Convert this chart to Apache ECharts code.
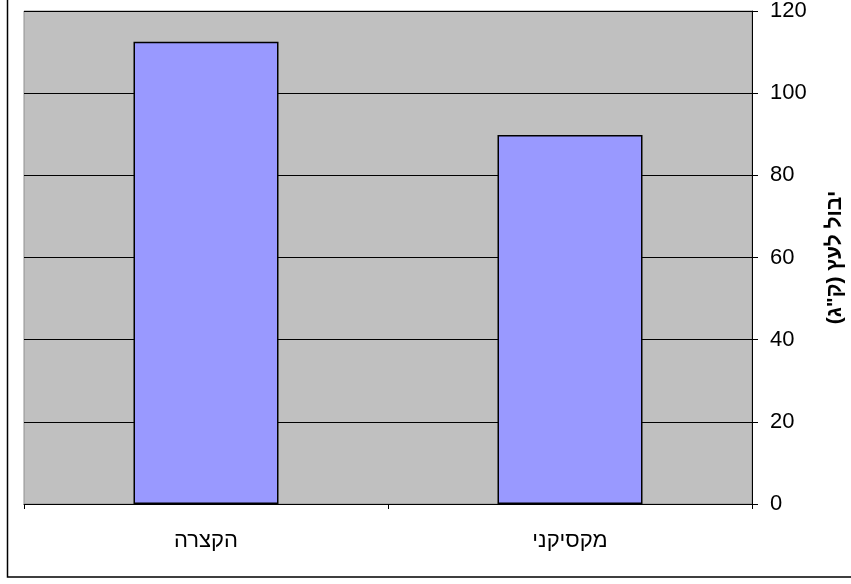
<!DOCTYPE html>
<html>
<head>
<meta charset="utf-8">
<script src="https://cdn.jsdelivr.net/npm/echarts@6/dist/echarts.min.js"></script>
<style>
html, body { margin: 0; padding: 0; background: #fff; }
#chart { width: 851px; height: 584px; }
</style>
</head>
<body>
<div id="chart"></div>
<script>
var chart = echarts.init(document.getElementById('chart'));

// זנים ויבול לעץ
var zanim = ['הקצרה', 'מקסיקני'];
var yevul = [112.5, 89.8];
var yTicks = [0, 20, 40, 60, 80, 100, 120];

var option = {
    animation: false,
    backgroundColor: '#fff',
    textStyle: { fontFamily: 'Liberation Sans, Arial, sans-serif' },
    graphic: [
        { type: 'rect', shape: { x: 7.5, y: -2, width: 870, height: 579 }, style: { fill: 'none', stroke: '#000', lineWidth: 1.5 }, z: 0 }
    ],
    grid: {
        left: 24, right: 99, top: 11, bottom: 80,
        outerBoundsMode: 'none',
        containLabel: false,
        show: true, backgroundColor: '#C0C0C0', borderColor: '#909090', borderWidth: 1
    },
    xAxis: {
        type: 'category',
        data: zanim,
        axisLine: { lineStyle: { color: '#000', width: 1 } },
        axisTick: { show: true, length: 5, alignWithLabel: false, lineStyle: { color: '#000' } },
        axisLabel: { color: '#000', fontSize: 22, margin: 26 }
    },
    yAxis: {
        type: 'value',
        position: 'right',
        min: yTicks[0],
        max: yTicks[yTicks.length - 1],
        interval: 20,
        name: 'יבול לעץ (ק"ג)',
        nameLocation: 'middle',
        nameGap: 73,
        nameRotate: 90,
        nameTextStyle: { color: '#000', fontSize: 21, fontWeight: 'bold' },
        axisLine: { show: true, lineStyle: { color: '#000', width: 1 } },
        axisTick: { show: true, inside: false, length: 6, lineStyle: { color: '#000' } },
        axisLabel: { color: '#000', fontSize: 22, margin: 18 },
        splitLine: { show: true, lineStyle: { color: '#000', width: 1 } }
    },
    series: [
        {
            type: 'bar',
            data: yevul,
            barWidth: 145,
            itemStyle: { color: '#9999FF', borderColor: '#000', borderWidth: 1.5 }
        }
    ]
};

chart.setOption(option);
</script>
</body>
</html>
